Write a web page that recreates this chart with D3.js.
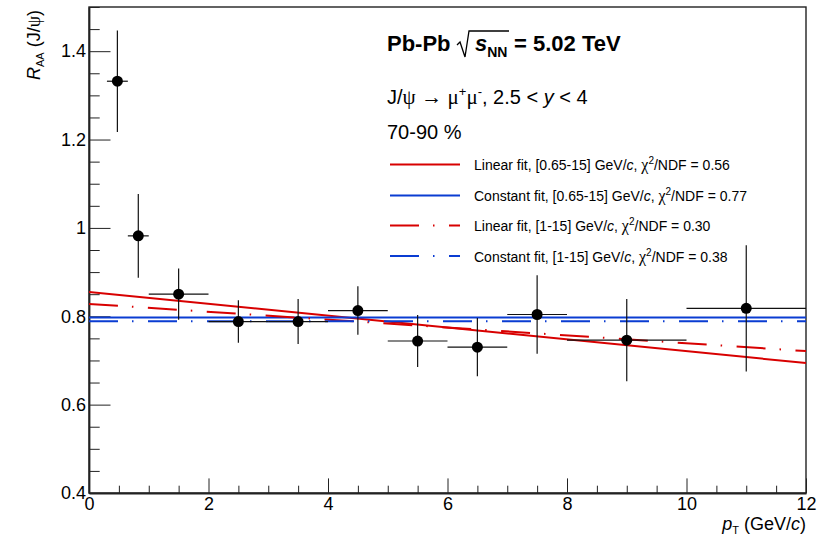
<!DOCTYPE html>
<html>
<head>
<meta charset="utf-8">
<script src="https://cdn.jsdelivr.net/npm/d3@7"></script>
<style>
  html, body { margin: 0; padding: 0; background: #fff; }
  svg { display: block; }
  text { font-family: "Liberation Sans", Arial, Helvetica, sans-serif; fill: #000; }
  .sym { font-family: "Liberation Serif", "DejaVu Serif", serif; }
</style>
</head>
<body>
<div id="chart"></div>
<script>
// ---------------- data ----------------
const ptCenters = [0.475, 0.825, 1.5, 2.5, 3.5, 4.5, 5.5, 6.5, 7.5, 9, 11];
const ptLow     = [0.3, 0.65, 1, 2, 3, 4, 5, 6, 7, 8, 10];
const ptHigh    = [0.65, 1, 2, 3, 4, 5, 6, 7, 8, 10, 12];
const raaValues = [1.332, 0.982, 0.850, 0.788, 0.788, 0.813, 0.744, 0.730, 0.804, 0.746, 0.818];
const raaErrors = [0.115, 0.095, 0.058, 0.048, 0.051, 0.055, 0.059, 0.066, 0.089, 0.093, 0.143];

const fitLabels     = ["Linear fit, [0.65-15]", "Constant fit, [0.65-15]", "Linear fit, [1-15]", "Constant fit, [1-15]"];
const fitChi2       = ["0.56", "0.77", "0.30", "0.38"];
const fitIntercepts = [0.855, 0.797, 0.828, 0.789];
const fitSlopes     = [-0.0134, 0, -0.0089, 0];
const fitColors     = ["#d80000", "#0a3cd2", "#d80000", "#0a3cd2"];
const fitDashed     = [false, false, true, true];

const xTicks = [0, 2, 4, 6, 8, 10, 12];
const yTicks = [0.4, 0.6, 0.8, 1.0, 1.2, 1.4];

// ---------------- layout ----------------
const W = 836, H = 536;
const m = { left: 89, right: 30, top: 7, bottom: 43 };
const iw = W - m.left - m.right, ih = H - m.top - m.bottom;

const x = d3.scaleLinear().domain([0, 12]).range([0, iw]);
const y = d3.scaleLinear().domain([0.4, 1.5]).range([ih, 0]);

const svg = d3.select("#chart").append("svg").attr("width", W).attr("height", H);
const g = svg.append("g").attr("transform", `translate(${m.left},${m.top})`);

const defs = svg.append("defs");
defs.append("clipPath").attr("id", "clip").append("rect").attr("width", iw).attr("height", ih);

// frame
g.append("rect").attr("width", iw).attr("height", ih).attr("fill", "none")
  .attr("stroke", "#222").attr("stroke-width", 1.4);

// x axis (ticks inward)
const xMinor = d3.range(0, 12.001, 0.5);
const xAxis = d3.axisBottom(x).tickValues(xTicks).tickFormat(d3.format("d")).tickSizeInner(-14.6).tickSizeOuter(0).tickPadding(4);
const gx = g.append("g").attr("transform", `translate(0,${ih})`).call(xAxis);
gx.select(".domain").attr("stroke", "#222").attr("stroke-width", 1.8);
gx.selectAll(".tick line").attr("stroke", "#222");
gx.selectAll(".tick text").attr("font-size", 18).attr("dy", "0.71em");
const xMinorAxis = d3.axisBottom(x).tickValues(xMinor.filter(v => v % 2 !== 0)).tickFormat("").tickSizeInner(-7.3).tickSizeOuter(0);
const gxm = g.append("g").attr("transform", `translate(0,${ih})`).call(xMinorAxis);
gxm.select(".domain").remove();
gxm.selectAll(".tick line").attr("stroke", "#222");

// y axis (ticks inward)
const yAxis = d3.axisLeft(y).tickValues(yTicks).tickFormat(d => d3.format("~g")(+d.toFixed(1))).tickSizeInner(-21.5).tickSizeOuter(0).tickPadding(3);
const gy = g.append("g").call(yAxis);
gy.select(".domain").attr("stroke", "#222").attr("stroke-width", 1.8);
gy.selectAll(".tick line").attr("stroke", "#222");
gy.selectAll(".tick text").attr("font-size", 18);
const yMinor = d3.range(0.4, 1.5001, 0.05).map(v => +v.toFixed(2)).filter(v => Math.abs(v * 5 - Math.round(v * 5)) > 1e-6);
const yMinorAxis = d3.axisLeft(y).tickValues(yMinor).tickFormat("").tickSizeInner(-10.7).tickSizeOuter(0);
const gym = g.append("g").call(yMinorAxis);
gym.select(".domain").remove();
gym.selectAll(".tick line").attr("stroke", "#222");

// fit lines
const plot = g.append("g").attr("clip-path", "url(#clip)");
fitIntercepts.forEach((b, i) => {
  const line = d3.line().x(d => x(d)).y(d => y(b + fitSlopes[i] * d));
  plot.append("path").datum([0, 12]).attr("d", line)
    .attr("fill", "none").attr("stroke", fitColors[i]).attr("stroke-width", 2)
    .attr("stroke-dasharray", fitDashed[i] ? "29,14,1.5,14.5" : null);
});

// data points
const idx = d3.range(ptCenters.length);
const pts = g.append("g");
pts.selectAll("line.h").data(idx).join("line").attr("class", "h")
  .attr("x1", i => x(ptLow[i])).attr("x2", i => x(ptHigh[i]))
  .attr("y1", i => y(raaValues[i])).attr("y2", i => y(raaValues[i]))
  .attr("stroke", "#111").attr("stroke-width", 1.2);
pts.selectAll("line.v").data(idx).join("line").attr("class", "v")
  .attr("x1", i => x(ptCenters[i])).attr("x2", i => x(ptCenters[i]))
  .attr("y1", i => y(raaValues[i] - raaErrors[i])).attr("y2", i => y(raaValues[i] + raaErrors[i]))
  .attr("stroke", "#111").attr("stroke-width", 1.2);
pts.selectAll("circle").data(idx).join("circle")
  .attr("cx", i => x(ptCenters[i])).attr("cy", i => y(raaValues[i])).attr("r", 5.5).attr("fill", "#000");

// ---------------- texts ----------------
// header
const hdr = svg.append("text").attr("x", 387).attr("y", 51).attr("font-size", 22).attr("font-weight", "bold");
hdr.append("tspan").text("Pb-Pb");
hdr.append("tspan").attr("x", 475).attr("font-style", "italic").text("s");
hdr.append("tspan").attr("font-size", 14).attr("dy", 6).text("NN");
hdr.append("tspan").attr("dy", -6).attr("x", 514).text("= 5.02 TeV");
// radical sign
svg.append("path").attr("d", "M457,45 L460,42 L465,57 L469,31 L509,31")
  .attr("fill", "none").attr("stroke", "#000").attr("stroke-width", 1.3);

const l2 = svg.append("text").attr("x", 387).attr("y", 103.5).attr("font-size", 20);
l2.append("tspan").text("J/");
l2.append("tspan").attr("class", "sym").attr("font-size", 21).text("ψ");
l2.append("tspan").text("  ");
l2.append("tspan").attr("class", "sym").attr("font-size", 21).text("→  μ");
l2.append("tspan").attr("font-size", 13).attr("dy", -8).text("+");
l2.append("tspan").attr("class", "sym").attr("font-size", 21).attr("dy", 8).text("μ");
l2.append("tspan").attr("font-size", 13).attr("dy", -8).text("-");
l2.append("tspan").attr("dy", 8).text(", 2.5 < ");
l2.append("tspan").attr("font-style", "italic").text("y");
l2.append("tspan").text(" < 4");

svg.append("text").attr("x", 387).attr("y", 138.5).attr("font-size", 20).text("70-90 %");

// legend
const legY = [164.5, 195.5, 225.5, 256];
fitLabels.forEach((lab, i) => {
  svg.append("line").attr("x1", 390).attr("x2", 460).attr("y1", legY[i]).attr("y2", legY[i])
    .attr("stroke", fitColors[i]).attr("stroke-width", 2)
    .attr("stroke-dasharray", fitDashed[i] ? "29,14,1.5,14.5" : null);
  const t = svg.append("text").attr("x", 474).attr("y", legY[i] + 5.5).attr("font-size", 14);
  t.append("tspan").text(lab + " GeV/");
  t.append("tspan").attr("font-style", "italic").text("c");
  t.append("tspan").text(", ");
  t.append("tspan").attr("class", "sym").attr("font-size", 16).text("χ");
  t.append("tspan").attr("font-size", 10).attr("dy", -6).text("2");
  t.append("tspan").attr("dy", 6).text("/NDF = " + fitChi2[i]);
});

// axis titles
const xt = svg.append("text").attr("x", 806).attr("y", 530).attr("text-anchor", "end").attr("font-size", 18);
xt.append("tspan").attr("font-style", "italic").text("p");
xt.append("tspan").attr("font-size", 11).attr("dy", 4).text("T");
xt.append("tspan").attr("dy", -4).text(" (GeV/");
xt.append("tspan").attr("font-style", "italic").text("c");
xt.append("tspan").text(")");

const yt = svg.append("text").attr("transform", "translate(40,10) rotate(-90)").attr("text-anchor", "end").attr("font-size", 18);
yt.append("tspan").attr("font-style", "italic").text("R");
yt.append("tspan").attr("font-size", 11).attr("dy", 4).text("AA");
yt.append("tspan").attr("dy", -4).text(" (J/");
yt.append("tspan").attr("class", "sym").text("ψ");
yt.append("tspan").text(")");
</script>
</body>
</html>
